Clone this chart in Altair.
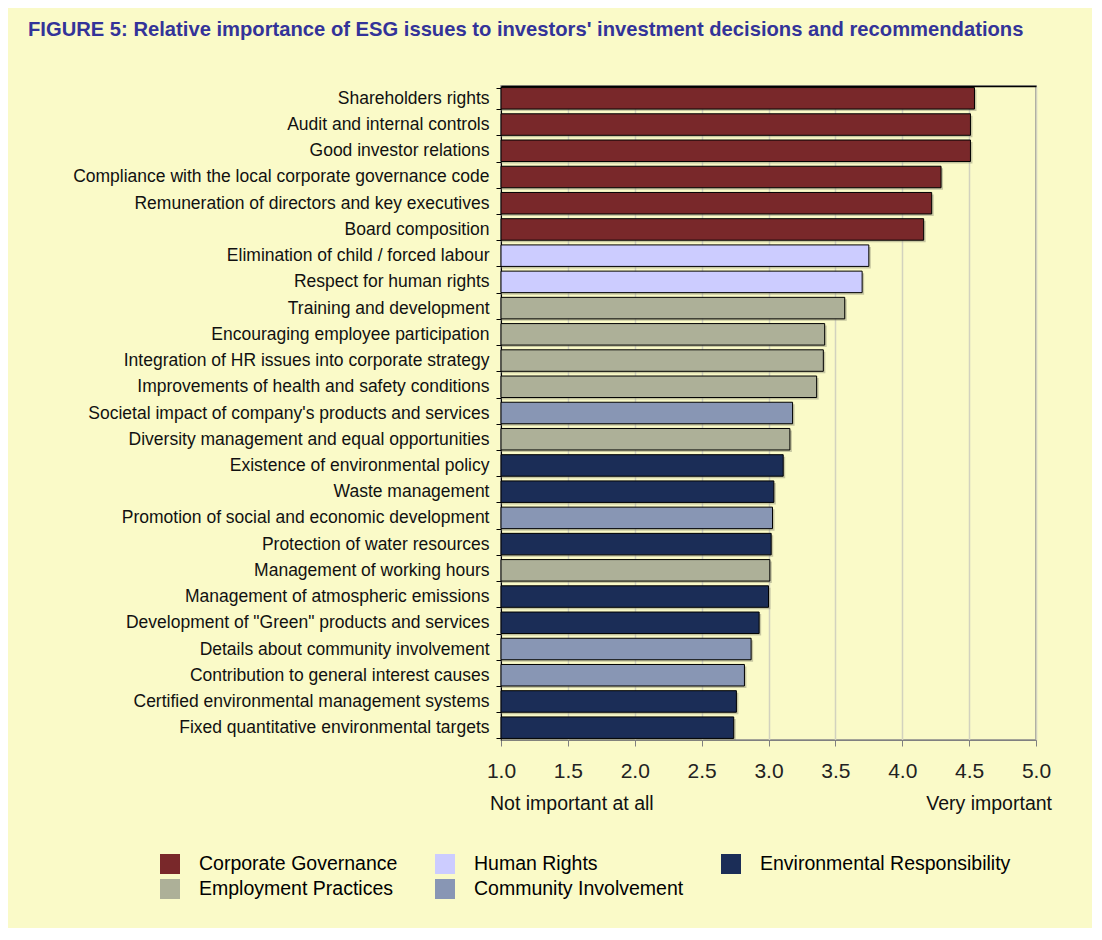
import altair as alt
import pandas as pd

categories = [
    "Shareholders rights",
    "Audit and internal controls",
    "Good investor relations",
    "Compliance with the local corporate governance code",
    "Remuneration of directors and key executives",
    "Board composition",
    "Elimination of child / forced labour",
    "Respect for human rights",
    "Training and development",
    "Encouraging employee participation",
    "Integration of HR issues into corporate strategy",
    "Improvements of health and safety conditions",
    "Societal impact of company's products and services",
    "Diversity management and equal opportunities",
    "Existence of environmental policy",
    "Waste management",
    "Promotion of social and economic development",
    "Protection of water resources",
    "Management of working hours",
    "Management of atmospheric emissions",
    "Development of \"Green\" products and services",
    "Details about community involvement",
    "Contribution to general interest causes",
    "Certified environmental management systems",
    "Fixed quantitative environmental targets",
]
values = [4.54, 4.51, 4.51, 4.29, 4.22, 4.16, 3.75, 3.70, 3.57, 3.42, 3.41, 3.36,
          3.18, 3.16, 3.11, 3.04, 3.03, 3.02, 3.01, 3.00, 2.93, 2.87, 2.82, 2.76, 2.74]
groups = ["Corporate Governance"] * 6 + ["Human Rights"] * 2 + ["Employment Practices"] * 4 + [
    "Community Involvement", "Employment Practices", "Environmental Responsibility",
    "Environmental Responsibility", "Community Involvement", "Environmental Responsibility",
    "Employment Practices", "Environmental Responsibility", "Environmental Responsibility",
    "Community Involvement", "Community Involvement", "Environmental Responsibility",
    "Environmental Responsibility"]

legend_order = ["Corporate Governance", "Human Rights", "Environmental Responsibility",
                "Employment Practices", "Community Involvement"]
legend_colors = ["#79282A", "#CCCCFF", "#1B2D57", "#ADB098", "#8896B4"]

x_ticks = [1.0, 1.5, 2.0, 2.5, 3.0, 3.5, 4.0, 4.5, 5.0]
note_left = ["Not important at all"]
note_left_pos = [1.0]
note_right = ["Very important"]
note_right_pos = [5.0]

df = pd.DataFrame({"item": categories, "score": values, "group": groups})

W, H = 535, 654
FONT = "Liberation Sans"

xscale = alt.Scale(domain=[1.0, 5.0], zero=False, nice=False)
yscale = alt.Scale(domain=categories, paddingInner=0.18, paddingOuter=0.06)
yaxis = alt.Axis(title=None, tickBand="extent", domainColor="#000000",
                 tickColor="#000000", tickSize=5, labelFontSize=17.5,
                 labelFont=FONT, labelColor="#111111", labelPadding=7,
                 labelLimit=0)

shadow = alt.Chart(df).mark_bar(color="#8a8a70", opacity=0.45, xOffset=2, yOffset=2).encode(
    x=alt.X("score:Q", scale=xscale,
            axis=alt.Axis(orient="top", labels=False, ticks=False, grid=False, title=None,
                          domainColor="#000000", domainWidth=1.5)),
    x2=alt.datum(1.0),
    y=alt.Y("item:N", scale=yscale, sort=categories, axis=yaxis),
)

bars = alt.Chart(df).mark_bar(stroke="#000000", strokeWidth=1).encode(
    x=alt.X("score:Q", scale=xscale,
            axis=alt.Axis(values=x_ticks, format=".1f", title=None, grid=True,
                          gridColor="#D2D2BE", gridWidth=1.5, labelFlush=False,
                          domainColor="#808080", tickColor="#808080", tickSize=6,
                          labelFontSize=21, labelFont=FONT, labelColor="#222222",
                          labelPadding=14)),
    x2=alt.datum(1.0),
    y=alt.Y("item:N", scale=yscale, sort=categories, axis=yaxis),
    color=alt.Color("group:N",
                    scale=alt.Scale(domain=legend_order, range=legend_colors),
                    legend=alt.Legend(orient="none", legendX=-341, legendY=768,
                                      columns=3, direction="horizontal", title=None,
                                      symbolType="square", symbolSize=400,
                                      symbolStrokeWidth=0, labelFontSize=19.5,
                                      labelFont=FONT, labelColor="#000000",
                                      labelOffset=19, columnPadding=37, rowPadding=5,
                                      labelLimit=0)),
)

left_note = alt.Chart(pd.DataFrame({"t": note_left, "x": note_left_pos})).mark_text(
    align="left", baseline="middle", fontSize=19.5, font=FONT, color="#111111", dx=-11
).encode(x=alt.X("x:Q", scale=xscale, axis=None), y=alt.value(H + 64), text="t:N")

right_note = alt.Chart(pd.DataFrame({"t": note_right, "x": note_right_pos})).mark_text(
    align="right", baseline="middle", fontSize=19.5, font=FONT, color="#111111", dx=16
).encode(x=alt.X("x:Q", scale=xscale, axis=None), y=alt.value(H + 64), text="t:N")

chart = alt.layer(shadow, bars, left_note, right_note).resolve_axis(x="independent").properties(
    width=W, height=H,
    autosize=alt.AutoSizeParams(type="none"),
    padding={"left": 493, "top": 78, "right": 56, "bottom": 188},
    title=alt.TitleParams(
        "FIGURE 5: Relative importance of ESG issues to investors' investment decisions and recommendations",
        anchor="start", frame="group", dx=-473, offset=37, fontSize=20.2, font=FONT,
        fontWeight="bold", color="#333399"),
).configure(background="#FAFAC8").configure_view(stroke="#888888", strokeWidth=1.5)

chart.save("out.html", embed_options={"renderer": "svg", "actions": False})
